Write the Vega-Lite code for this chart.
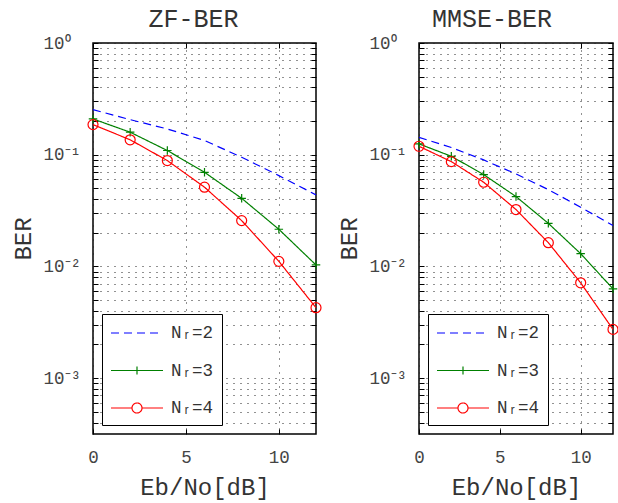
{
  "$schema": "https://vega.github.io/schema/vega-lite/v6.json",
  "padding": {"left": 10, "top": 6, "right": 0, "bottom": 0},
  "background": "white",
  "config": {
    "font": "Liberation Mono",
    "view": {"stroke": "black", "strokeWidth": 1.5},
    "title": {"fontSize": 25, "fontWeight": "normal", "color": "#333333", "offset": 2, "font": "Liberation Mono"},
    "axis": {
      "labelFont": "Liberation Mono",
      "titleFont": "Liberation Mono",
      "labelFontSize": 17.5,
      "labelColor": "#444444",
      "labelFlush": false,
      "titleFontSize": 24,
      "titleFontWeight": "normal",
      "titleColor": "#333333",
      "tickColor": "black",
      "tickWidth": 1,
      "domain": false,
      "gridColor": "#222222",
      "gridDash": [1, 6],
      "gridWidth": 1
    },
    "legend": {
      "labelFont": "Liberation Mono",
      "labelFontSize": 17.5,
      "labelColor": "#333333"
    }
  },
  "datasets": {
    "zf": [
      {"ebno": 0, "ber": 0.253, "series": "Nr=2"},
      {"ebno": 2, "ber": 0.206, "series": "Nr=2"},
      {"ebno": 4, "ber": 0.170, "series": "Nr=2"},
      {"ebno": 6, "ber": 0.134, "series": "Nr=2"},
      {"ebno": 8, "ber": 0.095, "series": "Nr=2"},
      {"ebno": 10, "ber": 0.065, "series": "Nr=2"},
      {"ebno": 12, "ber": 0.0437, "series": "Nr=2"},
      {"ebno": 0, "ber": 0.209, "series": "Nr=3"},
      {"ebno": 2, "ber": 0.159, "series": "Nr=3"},
      {"ebno": 4, "ber": 0.109, "series": "Nr=3"},
      {"ebno": 6, "ber": 0.0696, "series": "Nr=3"},
      {"ebno": 8, "ber": 0.0407, "series": "Nr=3"},
      {"ebno": 10, "ber": 0.0215, "series": "Nr=3"},
      {"ebno": 12, "ber": 0.0103, "series": "Nr=3"},
      {"ebno": 0, "ber": 0.186, "series": "Nr=4"},
      {"ebno": 2, "ber": 0.136, "series": "Nr=4"},
      {"ebno": 4, "ber": 0.0886, "series": "Nr=4"},
      {"ebno": 6, "ber": 0.0512, "series": "Nr=4"},
      {"ebno": 8, "ber": 0.0257, "series": "Nr=4"},
      {"ebno": 10, "ber": 0.0111, "series": "Nr=4"},
      {"ebno": 12, "ber": 0.00427, "series": "Nr=4"}
    ],
    "mmse": [
      {"ebno": 0, "ber": 0.143, "series": "Nr=2"},
      {"ebno": 2, "ber": 0.116, "series": "Nr=2"},
      {"ebno": 4, "ber": 0.0898, "series": "Nr=2"},
      {"ebno": 6, "ber": 0.0673, "series": "Nr=2"},
      {"ebno": 8, "ber": 0.0487, "series": "Nr=2"},
      {"ebno": 10, "ber": 0.0339, "series": "Nr=2"},
      {"ebno": 12, "ber": 0.0232, "series": "Nr=2"},
      {"ebno": 0, "ber": 0.125, "series": "Nr=3"},
      {"ebno": 2, "ber": 0.0968, "series": "Nr=3"},
      {"ebno": 4, "ber": 0.0664, "series": "Nr=3"},
      {"ebno": 6, "ber": 0.0422, "series": "Nr=3"},
      {"ebno": 8, "ber": 0.0243, "series": "Nr=3"},
      {"ebno": 10, "ber": 0.013, "series": "Nr=3"},
      {"ebno": 12, "ber": 0.0063, "series": "Nr=3"},
      {"ebno": 0, "ber": 0.119, "series": "Nr=4"},
      {"ebno": 2, "ber": 0.0867, "series": "Nr=4"},
      {"ebno": 4, "ber": 0.0567, "series": "Nr=4"},
      {"ebno": 6, "ber": 0.0323, "series": "Nr=4"},
      {"ebno": 8, "ber": 0.0163, "series": "Nr=4"},
      {"ebno": 10, "ber": 0.00713, "series": "Nr=4"},
      {"ebno": 12, "ber": 0.00273, "series": "Nr=4"}
    ]
  },
  "spacing": 11,
  "hconcat": [
    {
      "title": {"text": "ZF-BER", "dx": -11},
      "width": 223,
      "height": 391,
      "data": {"name": "zf"},
      "layer": [
        {
          "mark": {"type": "line", "strokeWidth": 1.2},
          "encoding": {
            "x": {"field": "ebno", "type": "quantitative", "scale": {"domain": [0, 12], "nice": false, "zero": false},
              "axis": {"title": "Eb/No[dB]", "values": [0, 5, 10], "grid": true, "tickSize": -5, "labelPadding": 19, "titlePadding": 10}},
            "y": {"field": "ber", "type": "quantitative", "scale": {"type": "log", "domain": [0.000316, 1], "nice": false},
              "axis": {"title": "BER", "grid": true, "tickSize": -5, "labelAlign": "left", "labelPadding": 55, "titlePadding": 8,
                "values": [0.0004,0.0005,0.0006,0.0007,0.0008,0.0009,0.001,0.002,0.003,0.004,0.005,0.006,0.007,0.008,0.009,0.01,0.02,0.03,0.04,0.05,0.06,0.07,0.08,0.09,0.1,0.2,0.3,0.4,0.5,0.6,0.7,0.8,0.9,1],
                "labelExpr": "datum.value == 1 ? '10⁰' : datum.value == 0.1 ? '10⁻¹' : datum.value == 0.01 ? '10⁻²' : datum.value == 0.001 ? '10⁻³' : ''",
                "encode": {"ticks": {"update": {"x2": {"signal": "indexof([1,0.1,0.01,0.001], datum.value) >= 0 ? 6 : 3"}}}}}},
            "color": {"field": "series", "type": "nominal",
              "scale": {"domain": ["Nr=2", "Nr=3", "Nr=4"], "range": ["#0000ff", "#008000", "#ff0000"]},
              "legend": {"title": null, "orient": "bottom-left", "offset": 9, "fillColor": "white", "strokeColor": "black", "padding": 8,
                "symbolSize": 400, "symbolStrokeWidth": 1.2, "symbolOffset": 16, "labelOffset": 23, "rowPadding": 17.5,
                "labelExpr": "replace(datum.label, 'Nr', 'Nᵣ')",
                "encode": {"symbols": {"update": {"shape": {"signal": "datum.value == 'Nr=2' ? 'M-2.6,0H2.6' : datum.value == 'Nr=3' ? 'M-2.6,0H2.6M0,-0.4V0.4' : 'M-2.6,0H-0.5A0.5,0.5 0 1 1 0.5,0H2.6M0.5,0A0.5,0.5 0 1 1 -0.5,0'"}}}}}},
            "strokeDash": {"field": "series", "type": "nominal",
              "scale": {"domain": ["Nr=2", "Nr=3", "Nr=4"], "range": [[8, 5], [1, 0], [1, 0]]},
              "legend": {"title": null, "orient": "bottom-left", "offset": 9, "fillColor": "white", "strokeColor": "black", "padding": 8,
                "symbolSize": 400, "symbolStrokeWidth": 1.2, "symbolOffset": 16, "labelOffset": 23, "rowPadding": 17.5,
                "labelExpr": "replace(datum.label, 'Nr', 'Nᵣ')",
                "encode": {"symbols": {"update": {"shape": {"signal": "datum.value == 'Nr=2' ? 'M-2.6,0H2.6' : datum.value == 'Nr=3' ? 'M-2.6,0H2.6M0,-0.4V0.4' : 'M-2.6,0H-0.5A0.5,0.5 0 1 1 0.5,0H2.6M0.5,0A0.5,0.5 0 1 1 -0.5,0'"}}}}}}
          }
        },
        {
          "transform": [{"filter": "datum.series != 'Nr=2'"}],
          "mark": {"type": "point", "filled": false, "strokeWidth": 1.2, "size": 100, "opacity": 1},
          "encoding": {
            "x": {"field": "ebno", "type": "quantitative",
              "axis": {"orient": "top", "title": null, "labels": false, "grid": false, "values": [0, 5, 10], "tickSize": -5}},
            "y": {"field": "ber", "type": "quantitative",
              "axis": {"orient": "right", "title": null, "labels": false, "grid": false, "tickSize": -5,
                "values": [0.0004,0.0005,0.0006,0.0007,0.0008,0.0009,0.001,0.002,0.003,0.004,0.005,0.006,0.007,0.008,0.009,0.01,0.02,0.03,0.04,0.05,0.06,0.07,0.08,0.09,0.1,0.2,0.3,0.4,0.5,0.6,0.7,0.8,0.9,1],
                "encode": {"ticks": {"update": {"x2": {"signal": "indexof([1,0.1,0.01,0.001], datum.value) >= 0 ? -6 : -3"}}}}}},
            "stroke": {"field": "series", "type": "nominal", "legend": null,
              "scale": {"domain": ["Nr=3", "Nr=4"], "range": ["#008000", "#ff0000"]}},
            "shape": {"field": "series", "type": "nominal", "legend": null,
              "scale": {"domain": ["Nr=3", "Nr=4"], "range": ["M-0.85,0H0.85M0,-0.85V0.85", "circle"]}}
          }
        }
      ],
      "resolve": {"axis": {"x": "independent", "y": "independent"}}
    },
    {
      "title": {"text": "MMSE-BER", "dx": -24},
      "width": 194,
      "height": 391,
      "data": {"name": "mmse"},
      "layer": [
        {
          "mark": {"type": "line", "strokeWidth": 1.2},
          "encoding": {
            "x": {"field": "ebno", "type": "quantitative", "scale": {"domain": [0, 12], "nice": false, "zero": false},
              "axis": {"title": "Eb/No[dB]", "values": [0, 5, 10], "grid": true, "tickSize": -5, "labelPadding": 19, "titlePadding": 10}},
            "y": {"field": "ber", "type": "quantitative", "scale": {"type": "log", "domain": [0.000316, 1], "nice": false},
              "axis": {"title": "BER", "grid": true, "tickSize": -5, "labelAlign": "left", "labelPadding": 55, "titlePadding": 8,
                "values": [0.0004,0.0005,0.0006,0.0007,0.0008,0.0009,0.001,0.002,0.003,0.004,0.005,0.006,0.007,0.008,0.009,0.01,0.02,0.03,0.04,0.05,0.06,0.07,0.08,0.09,0.1,0.2,0.3,0.4,0.5,0.6,0.7,0.8,0.9,1],
                "labelExpr": "datum.value == 1 ? '10⁰' : datum.value == 0.1 ? '10⁻¹' : datum.value == 0.01 ? '10⁻²' : datum.value == 0.001 ? '10⁻³' : ''",
                "encode": {"ticks": {"update": {"x2": {"signal": "indexof([1,0.1,0.01,0.001], datum.value) >= 0 ? 6 : 3"}}}}}},
            "color": {"field": "series", "type": "nominal",
              "scale": {"domain": ["Nr=2", "Nr=3", "Nr=4"], "range": ["#0000ff", "#008000", "#ff0000"]},
              "legend": {"title": null, "orient": "bottom-left", "offset": 9, "fillColor": "white", "strokeColor": "black", "padding": 8,
                "symbolSize": 400, "symbolStrokeWidth": 1.2, "symbolOffset": 16, "labelOffset": 23, "rowPadding": 17.5,
                "labelExpr": "replace(datum.label, 'Nr', 'Nᵣ')",
                "encode": {"symbols": {"update": {"shape": {"signal": "datum.value == 'Nr=2' ? 'M-2.6,0H2.6' : datum.value == 'Nr=3' ? 'M-2.6,0H2.6M0,-0.4V0.4' : 'M-2.6,0H-0.5A0.5,0.5 0 1 1 0.5,0H2.6M0.5,0A0.5,0.5 0 1 1 -0.5,0'"}}}}}},
            "strokeDash": {"field": "series", "type": "nominal",
              "scale": {"domain": ["Nr=2", "Nr=3", "Nr=4"], "range": [[8, 5], [1, 0], [1, 0]]},
              "legend": {"title": null, "orient": "bottom-left", "offset": 9, "fillColor": "white", "strokeColor": "black", "padding": 8,
                "symbolSize": 400, "symbolStrokeWidth": 1.2, "symbolOffset": 16, "labelOffset": 23, "rowPadding": 17.5,
                "labelExpr": "replace(datum.label, 'Nr', 'Nᵣ')",
                "encode": {"symbols": {"update": {"shape": {"signal": "datum.value == 'Nr=2' ? 'M-2.6,0H2.6' : datum.value == 'Nr=3' ? 'M-2.6,0H2.6M0,-0.4V0.4' : 'M-2.6,0H-0.5A0.5,0.5 0 1 1 0.5,0H2.6M0.5,0A0.5,0.5 0 1 1 -0.5,0'"}}}}}}
          }
        },
        {
          "transform": [{"filter": "datum.series != 'Nr=2'"}],
          "mark": {"type": "point", "filled": false, "strokeWidth": 1.2, "size": 100, "opacity": 1},
          "encoding": {
            "x": {"field": "ebno", "type": "quantitative",
              "axis": {"orient": "top", "title": null, "labels": false, "grid": false, "values": [0, 5, 10], "tickSize": -5}},
            "y": {"field": "ber", "type": "quantitative",
              "axis": {"orient": "right", "title": null, "labels": false, "grid": false, "tickSize": -5,
                "values": [0.0004,0.0005,0.0006,0.0007,0.0008,0.0009,0.001,0.002,0.003,0.004,0.005,0.006,0.007,0.008,0.009,0.01,0.02,0.03,0.04,0.05,0.06,0.07,0.08,0.09,0.1,0.2,0.3,0.4,0.5,0.6,0.7,0.8,0.9,1],
                "encode": {"ticks": {"update": {"x2": {"signal": "indexof([1,0.1,0.01,0.001], datum.value) >= 0 ? -6 : -3"}}}}}},
            "stroke": {"field": "series", "type": "nominal", "legend": null,
              "scale": {"domain": ["Nr=3", "Nr=4"], "range": ["#008000", "#ff0000"]}},
            "shape": {"field": "series", "type": "nominal", "legend": null,
              "scale": {"domain": ["Nr=3", "Nr=4"], "range": ["M-0.85,0H0.85M0,-0.85V0.85", "circle"]}}
          }
        }
      ],
      "resolve": {"axis": {"x": "independent", "y": "independent"}}
    }
  ],
  "resolve": {
    "scale": {"color": "independent", "strokeDash": "independent", "stroke": "independent", "shape": "independent"},
    "legend": {"color": "independent", "strokeDash": "independent"}
  }
}
